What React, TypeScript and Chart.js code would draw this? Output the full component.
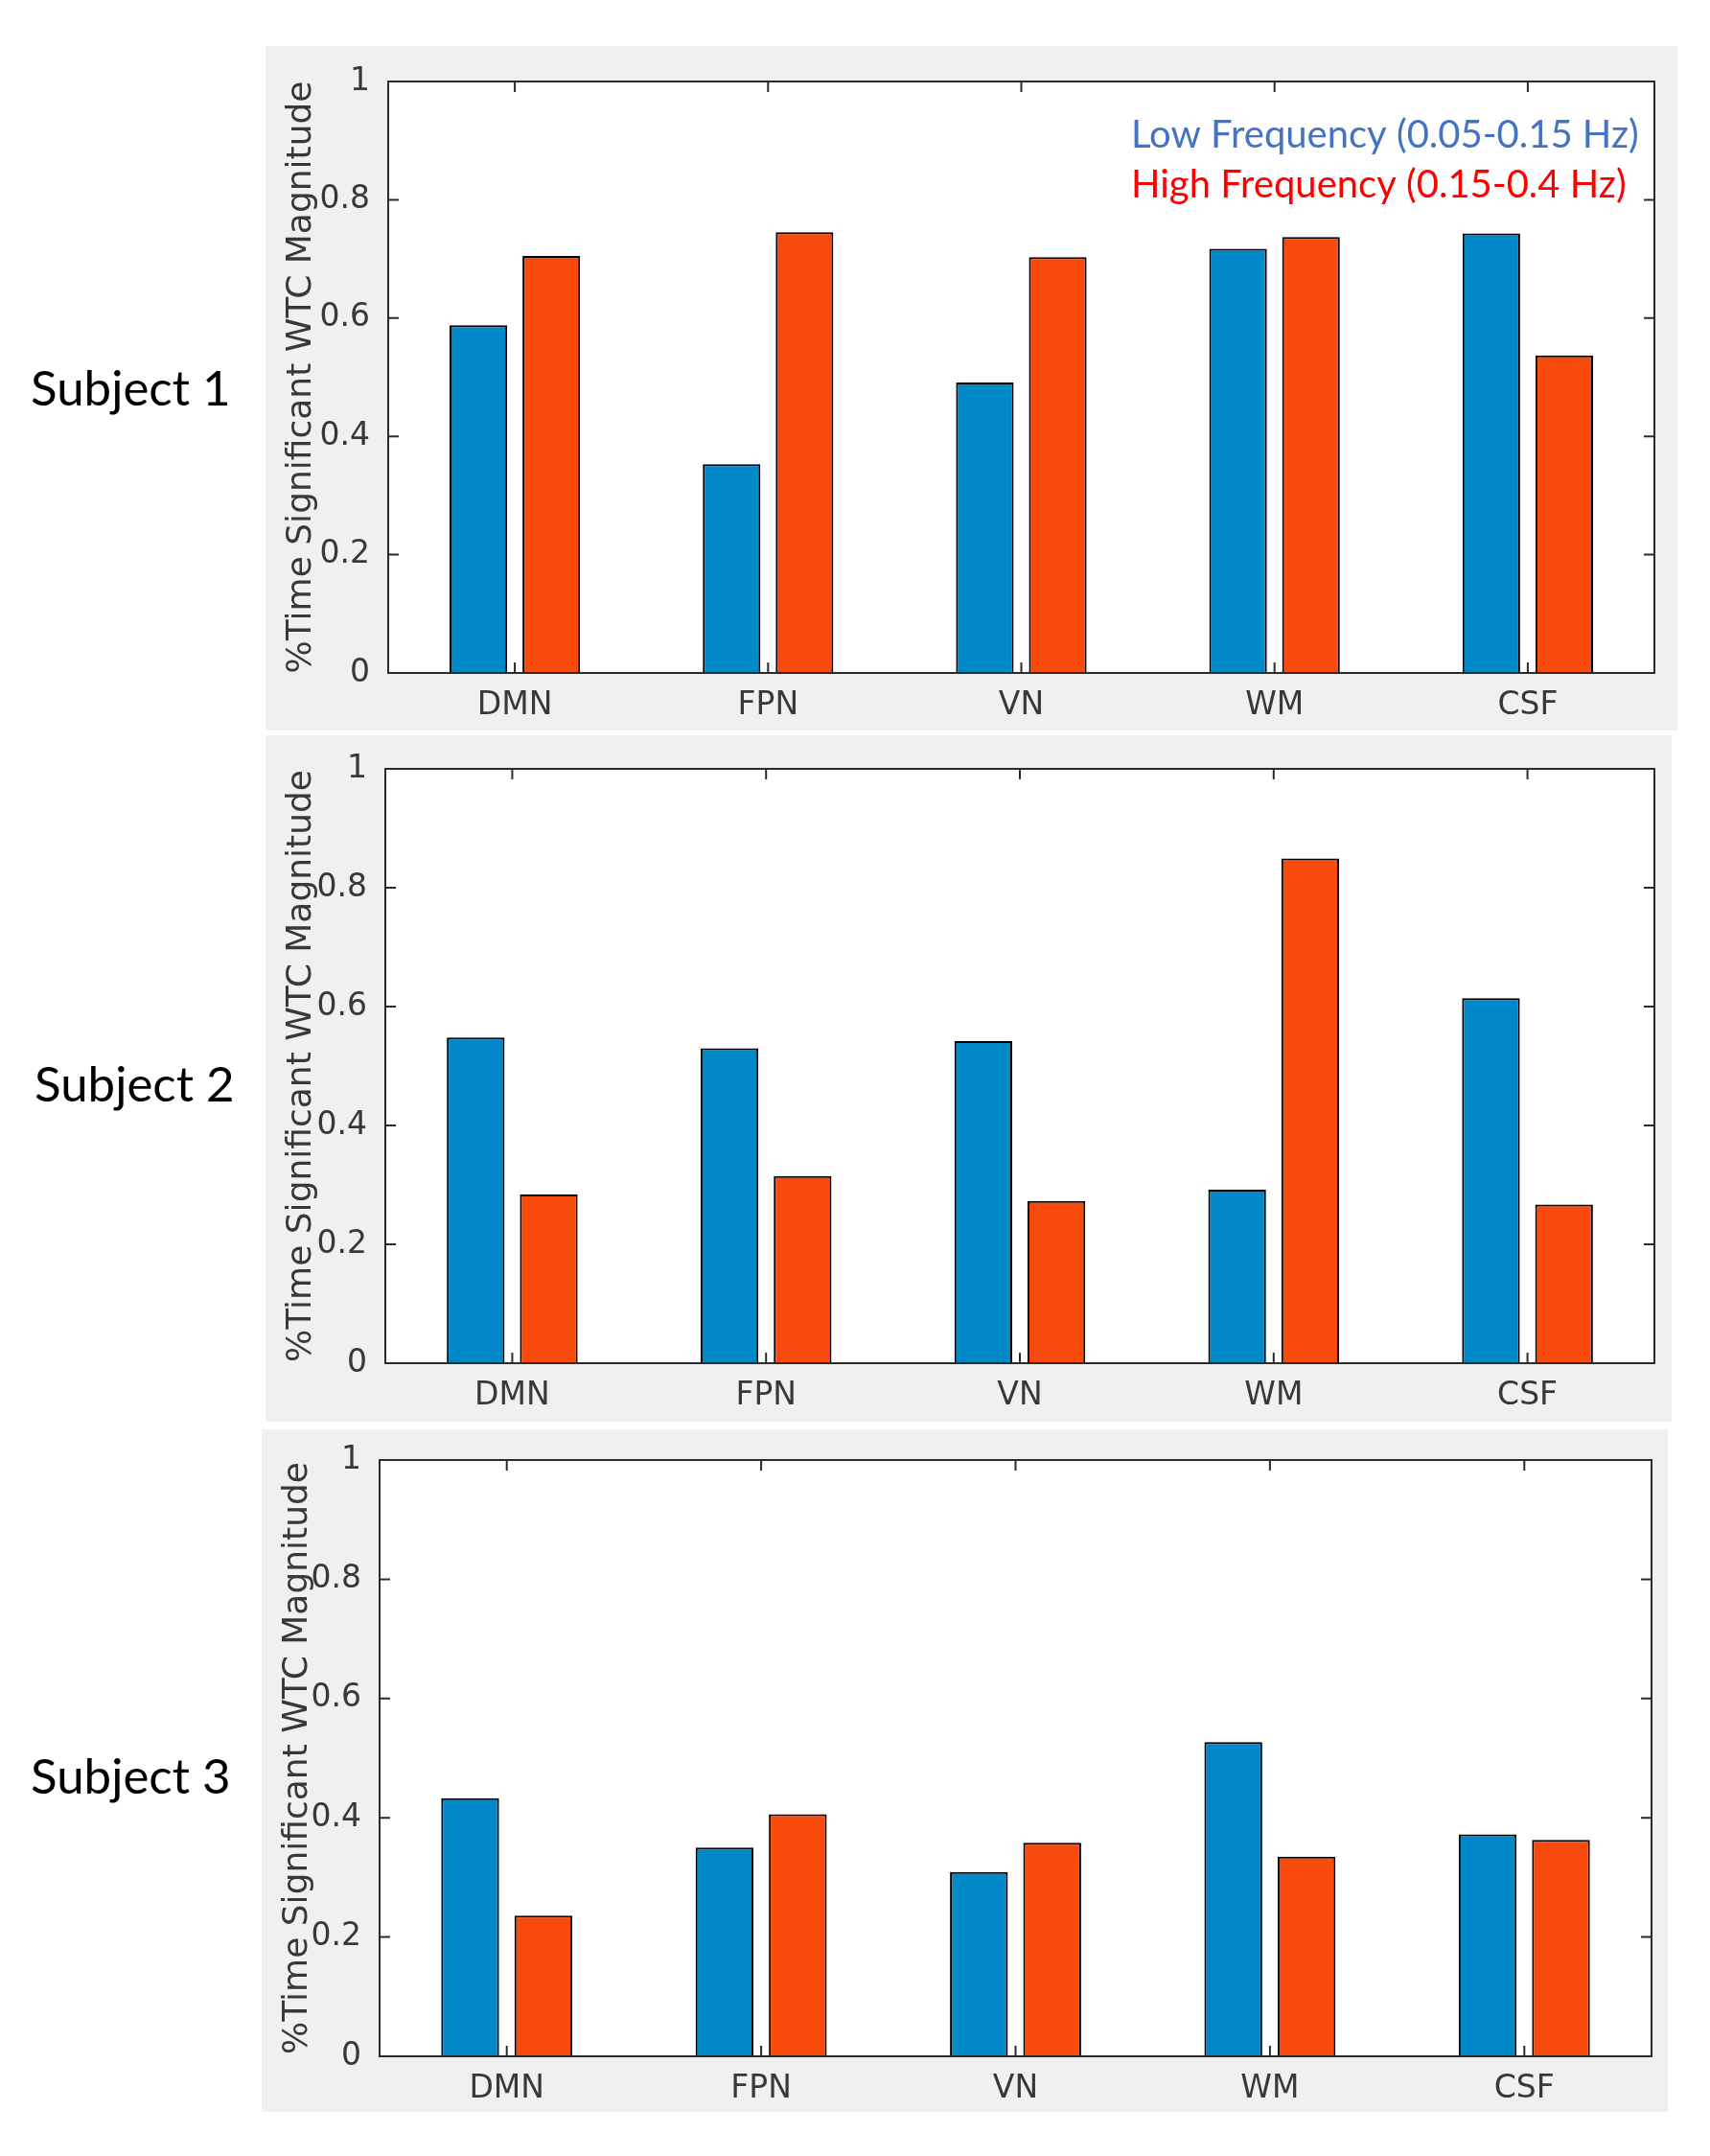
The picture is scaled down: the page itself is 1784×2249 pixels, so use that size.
import React, { useEffect, useRef } from 'react';
import { Chart, registerables } from 'chart.js';

Chart.register(...registerables);

// ---------- data ----------
const categories = ['DMN', 'FPN', 'VN', 'WM', 'CSF'];
const seriesLabels = ['Low Frequency (0.05-0.15 Hz)', 'High Frequency (0.15-0.4 Hz)'];
const subject1Low = [0.588, 0.353, 0.491, 0.717, 0.743];
const subject1High = [0.705, 0.745, 0.703, 0.737, 0.537];
const subject2Low = [0.548, 0.53, 0.542, 0.292, 0.614];
const subject2High = [0.284, 0.315, 0.273, 0.849, 0.267];
const subject3Low = [0.433, 0.35, 0.309, 0.527, 0.372];
const subject3High = [0.236, 0.406, 0.358, 0.335, 0.363];
const yTickValues = [0, 0.2, 0.4, 0.6, 0.8, 1];
const yTickLabels = ['0', '0.2', '0.4', '0.6', '0.8', '1'];
const subjectNames = ['Subject 1', 'Subject 2', 'Subject 3'];
const yAxisTitle = '%Time Significant WTC Magnitude';

// ---------- styles / layout ----------
const AXIS = '#2b2b2b';
const TEXT = '#383838';
const BLUE = '#0088c8';
const ORANGE = '#f74a0c';
const LEGEND_COLORS = ['#4472c4', '#ff0000'];
const PANEL_BG = '#f0f0f0';

type Geom = {
  bgLeft: number; bgTop: number; bgRight: number; bgBottom: number;
  plotLeft: number; plotTop: number; plotRight: number; plotBottom: number;
  labelLeft: number; labelBaseline: number;
};

const geoms: Geom[] = [
  { bgLeft: 277, bgTop: 48, bgRight: 1750, bgBottom: 762, plotLeft: 405, plotTop: 85, plotRight: 1726, plotBottom: 702, labelLeft: 32, labelBaseline: 423 },
  { bgLeft: 277, bgTop: 767, bgRight: 1744, bgBottom: 1483, plotLeft: 402, plotTop: 802, plotRight: 1726, plotBottom: 1422, labelLeft: 36, labelBaseline: 1149 },
  { bgLeft: 273, bgTop: 1491, bgRight: 1740, bgBottom: 2203, plotLeft: 396, plotTop: 1523, plotRight: 1723, plotBottom: 2145, labelLeft: 32, labelBaseline: 1871 },
];

const framePlugin = {
  id: 'matlabFrame',
  beforeDraw(chart: any) {
    const { ctx, chartArea: a } = chart;
    ctx.save();
    ctx.fillStyle = '#ffffff';
    ctx.fillRect(a.left, a.top, a.right - a.left, a.bottom - a.top);
    ctx.restore();
  },
  afterDatasetsDraw(chart: any) {
    const { ctx, chartArea: a, scales } = chart;
    const xs = scales.x;
    const ys = scales.y;
    const tl = 11;
    ctx.save();
    ctx.strokeStyle = AXIS;
    ctx.lineWidth = 2;
    ctx.beginPath();
    ys.ticks.forEach((_t: any, i: number) => {
      const py = ys.getPixelForTick(i);
      ctx.moveTo(a.left, py);
      ctx.lineTo(a.left + tl, py);
      ctx.moveTo(a.right, py);
      ctx.lineTo(a.right - tl, py);
    });
    xs.ticks.forEach((_t: any, i: number) => {
      const px = xs.getPixelForTick(i);
      ctx.moveTo(px, a.top);
      ctx.lineTo(px, a.top + tl);
      ctx.moveTo(px, a.bottom);
      ctx.lineTo(px, a.bottom - tl);
    });
    ctx.stroke();
    ctx.strokeRect(a.left, a.top, a.right - a.left, a.bottom - a.top);
    ctx.restore();
  },
};

const legendTextPlugin = {
  id: 'legendText',
  afterDraw(chart: any) {
    const { ctx, chartArea: a } = chart;
    ctx.save();
    ctx.font = '40px Lato';
    ctx.textAlign = 'left';
    ctx.textBaseline = 'alphabetic';
    seriesLabels.forEach((txt, i) => {
      ctx.fillStyle = LEGEND_COLORS[i];
      ctx.fillText(txt, a.left + 775, a.top + 69 + i * 52);
    });
    ctx.restore();
  },
};

function Panel({ geom, low, high, showLegend }: { geom: Geom; low: number[]; high: number[]; showLegend: boolean }) {
  const ref = useRef<HTMLCanvasElement>(null);
  const w = geom.bgRight - geom.bgLeft;
  const h = geom.bgBottom - geom.bgTop;

  useEffect(() => {
    if (!ref.current) return;
    const tickFont = { family: 'DejaVu Sans', size: 33 };
    const chart = new Chart(ref.current, {
      type: 'bar',
      data: {
        labels: categories,
        datasets: [
          { label: seriesLabels[0], data: low, backgroundColor: BLUE, borderColor: '#000000', borderWidth: 2, categoryPercentage: 0.576, barPercentage: 0.79 },
          { label: seriesLabels[1], data: high, backgroundColor: ORANGE, borderColor: '#000000', borderWidth: 2, categoryPercentage: 0.576, barPercentage: 0.79 },
        ],
      },
      options: {
        responsive: false,
        maintainAspectRatio: false,
        animation: false,
        devicePixelRatio: 1,
        layout: {
          padding: { left: 0, top: geom.plotTop - geom.bgTop, right: geom.bgRight - geom.plotRight, bottom: 0 },
        },
        plugins: { legend: { display: false }, tooltip: { enabled: false }, title: { display: false } },
        scales: {
          x: {
            type: 'category',
            offset: true,
            grid: { display: false },
            border: { display: false },
            ticks: { font: tickFont, color: TEXT, padding: 7, maxRotation: 0, autoSkip: false },
            afterFit: (s: any) => { s.height = geom.bgBottom - geom.plotBottom; },
          },
          y: {
            type: 'linear',
            min: 0,
            max: 1,
            grid: { display: false },
            border: { display: false },
            afterBuildTicks: (s: any) => { s.ticks = yTickValues.map((v) => ({ value: v })); },
            ticks: {
              font: tickFont,
              color: TEXT,
              padding: 11,
              callback: (_v: any, i: number) => yTickLabels[i],
            },
            title: {
              display: true,
              text: yAxisTitle,
              font: { family: 'DejaVu Sans', size: 36 },
              color: TEXT,
              padding: { top: 16, bottom: 0 },
            },
            afterFit: (s: any) => { s.width = geom.plotLeft - geom.bgLeft; },
          },
        },
      } as any,
      plugins: showLegend ? [framePlugin, legendTextPlugin] : [framePlugin],
    });
    return () => chart.destroy();
  }, []);

  return (
    <div style={{ position: 'absolute', left: geom.bgLeft, top: geom.bgTop, width: w, height: h, background: PANEL_BG }}>
      <canvas ref={ref} width={w} height={h} style={{ width: w, height: h, display: 'block' }} />
    </div>
  );
}

export default function App() {
  const lows = [subject1Low, subject2Low, subject3Low];
  const highs = [subject1High, subject2High, subject3High];
  return (
    <div style={{ position: 'absolute', left: 0, top: 0, width: 1784, height: 2249, background: '#ffffff', overflow: 'hidden' }}>
      {geoms.map((g, i) => (
        <React.Fragment key={i}>
          <div
            style={{
              position: 'absolute',
              left: g.labelLeft,
              top: g.labelBaseline - 45,
              fontFamily: 'Lato',
              fontSize: 51,
              lineHeight: '51px',
              color: '#000000',
              whiteSpace: 'nowrap',
            }}
          >
            {subjectNames[i]}
          </div>
          <Panel geom={g} low={lows[i]} high={highs[i]} showLegend={i === 0} />
        </React.Fragment>
      ))}
    </div>
  );
}
